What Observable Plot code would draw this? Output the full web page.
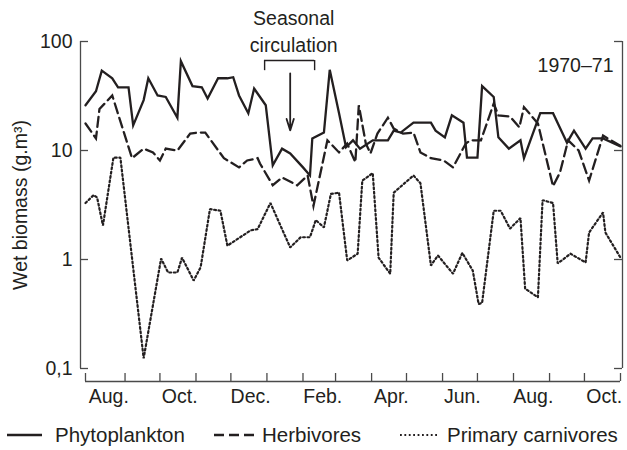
<!DOCTYPE html>
<html>
<head>
<meta charset="utf-8">
<script src="https://cdn.jsdelivr.net/npm/d3@7"></script>
<script src="https://cdn.jsdelivr.net/npm/@observablehq/plot@0.6"></script>
<style>
  html, body { margin: 0; padding: 0; background: #fff; }
  #chart { width: 627px; }
  .legend {
    position: relative; height: 30px; width: 627px;
    font: 20.5px "Liberation Sans", Arial, sans-serif; color: #231f20;
  }
  .legend .item { position: absolute; top: 0; height: 30px; display: flex; align-items: center; white-space: nowrap; }
  .legend svg { display: block; }
</style>
</head>
<body>
<div id="chart"></div>
<script>
// Wet biomass (g/m³) of three trophic levels, July 1970 – October 1971.
const seriesNames = ["Phytoplankton", "Herbivores", "Primary carnivores"];

const phytoDates = ["1970-07-29","1970-08-07","1970-08-12","1970-08-21","1970-08-26","1970-09-04","1970-09-08","1970-09-17","1970-09-21","1970-09-29","1970-10-06","1970-10-16","1970-10-19","1970-10-29","1970-11-06","1970-11-11","1970-11-20","1970-11-28","1970-12-03","1970-12-08","1970-12-16","1970-12-21","1970-12-31","1971-01-06","1971-01-14","1971-01-21","1971-02-01","1971-02-07","1971-02-09","1971-02-19","1971-02-24","1971-03-04","1971-03-10","1971-03-16","1971-03-22","1971-04-02","1971-04-15","1971-04-20","1971-04-26","1971-05-07","1971-05-22","1971-05-26","1971-06-03","1971-06-09","1971-06-19","1971-06-22","1971-07-01","1971-07-05","1971-07-15","1971-07-19","1971-07-28","1971-08-07","1971-08-10","1971-08-24","1971-09-04","1971-09-16","1971-09-22","1971-10-02","1971-10-08","1971-10-17","1971-11-01"];
const phytoValues = [26,35,54,46,38,38,17,29,46,32,31,20,66,39,38,30,46,46,47,32,22,37,26,7.3,10.4,9.4,7,5.9,12.9,14.6,55,22,10.7,12.4,10.4,12.4,12.4,15.2,14.6,18,18,15.2,13.2,21,18,8.6,8.6,39,31,13.2,10.4,12.4,8.5,22,22,11.8,15.2,10.4,12.9,12.9,10.9];

const herbDates = ["1970-07-29","1970-08-07","1970-08-10","1970-08-21","1970-09-07","1970-09-17","1970-09-25","1970-10-01","1970-10-06","1970-10-16","1970-10-27","1970-11-02","1970-11-09","1970-11-25","1970-12-08","1970-12-15","1970-12-24","1970-12-26","1971-01-06","1971-01-14","1971-01-27","1971-02-05","1971-02-10","1971-02-22","1971-03-04","1971-03-11","1971-03-18","1971-03-21","1971-03-27","1971-03-31","1971-04-06","1971-04-15","1971-04-20","1971-04-28","1971-05-07","1971-05-13","1971-05-22","1971-06-02","1971-06-10","1971-06-21","1971-06-25","1971-07-04","1971-07-15","1971-07-19","1971-07-29","1971-08-06","1971-08-10","1971-08-22","1971-09-04","1971-09-10","1971-09-17","1971-09-26","1971-10-05","1971-10-17","1971-11-01"];
const herbValues = [17.7,12.9,24,32,8.5,10.4,9.6,8.1,10.4,10,14.3,14.6,14.6,8.5,7,8.1,8.5,7.6,4.8,5.65,4.8,5.9,3.1,12.4,9.6,11.6,7.8,26,11.6,9.4,14.3,20,15.9,14.3,14.6,9.6,8.5,8.1,7,11.6,12.4,12.4,27,21,20.5,16.3,25,17.7,4.7,6.3,12.4,10,5.3,13.7,11];

const carnDates = ["1970-07-29","1970-08-05","1970-08-08","1970-08-13","1970-08-22","1970-08-28","1970-09-17","1970-10-02","1970-10-08","1970-10-16","1970-10-20","1970-10-30","1970-11-05","1970-11-13","1970-11-22","1970-11-28","1970-12-18","1970-12-24","1971-01-04","1971-01-21","1971-01-30","1971-02-07","1971-02-12","1971-02-19","1971-02-25","1971-03-04","1971-03-11","1971-03-20","1971-03-24","1971-04-02","1971-04-07","1971-04-17","1971-04-20","1971-05-07","1971-05-13","1971-05-22","1971-05-28","1971-06-10","1971-06-18","1971-06-27","1971-07-02","1971-07-05","1971-07-15","1971-07-21","1971-07-29","1971-08-07","1971-08-11","1971-08-22","1971-08-26","1971-09-04","1971-09-08","1971-09-19","1971-10-02","1971-10-05","1971-10-17","1971-10-19","1971-11-01"];
const carnValues = [3.3,3.9,3.7,2.05,8.6,8.6,0.124,1.02,0.76,0.76,1.04,0.64,0.85,2.9,2.8,1.34,1.85,1.9,3.3,1.29,1.6,1.6,2.3,1.97,4.0,4.1,0.98,1.13,5.3,6.2,1.04,0.74,4.1,5.9,5.0,0.88,1.09,0.74,1.15,0.79,0.39,0.4,2.8,2.8,1.92,2.4,0.54,0.45,3.5,3.3,0.92,1.13,0.94,1.77,2.7,1.77,1.04];

// Axis ticks and labels
const yTicks = [0.1, 1, 10, 100];
const yTickLabels = ["0,1", "1", "10", "100"];
const monthLabels = ["Aug.", "Oct.", "Dec.", "Feb.", "Apr.", "Jun.", "Aug.", "Oct."];
const labelledMonths = ["1970-08", "1970-10", "1970-12", "1971-02", "1971-04", "1971-06", "1971-08", "1971-10"];

// Winter mixing period marked above the curves
const circulation = {start: "1970-12-30", end: "1971-02-11", arrow: "1971-01-21", label: "1971-01-24"};
const periodLabel = "1970–71";

const ink = "#231f20";
const axisInk = "#4a4a4a";
const font = '"Liberation Sans", Arial, sans-serif';

const rows = (dates, values) => dates.map((d, i) => ({date: new Date(d), value: values[i]}));
const phyto = rows(phytoDates, phytoValues);
const herb = rows(herbDates, herbValues);
const carn = rows(carnDates, carnValues);

const width = 627, height = 420;
const marginLeft = 85, marginRight = 7, marginTop = 41, marginBottom = 52;
const innerW = width - marginLeft - marginRight;
const innerH = height - marginTop - marginBottom;
const tickLen = 8;

const xDomain = [new Date("1970-07-29"), new Date("1971-11-01")];
// month boundaries (ticks); labels sit in the middle of their month
const monthTicks = [xDomain[0], ...d3.utcMonths(new Date("1970-09-01"), new Date("1971-11-02"))];
const labelDates = labelledMonths.map(m => d3.utcDay.offset(new Date(m + "-01"), 17));
const labelOf = new Map(labelDates.map((d, i) => [+d, monthLabels[i]]));

const ann = [{
  start: new Date(circulation.start), end: new Date(circulation.end),
  arrow: new Date(circulation.arrow), label: new Date(circulation.label)
}];

const dotted = "1.8,2.6";

const chart = Plot.plot({
  width, height, marginLeft, marginRight, marginTop, marginBottom,
  style: {fontFamily: font, fontSize: "19.5px", color: ink, background: "#fff"},
  x: {type: "utc", domain: xDomain},
  y: {type: "log", domain: [0.1, 100]},
  marks: [
    // left axis
    Plot.ruleX([xDomain[0]], {x: d => d, y1: 0.1, y2: 100, dx: -5, stroke: axisInk, strokeWidth: 1.3}),
    Plot.tickY(yTicks, {y: d => d, dx: -5, insetRight: innerW - tickLen, stroke: axisInk, strokeWidth: 1.3}),
    Plot.axisY({ticks: yTicks, tickFormat: d => yTickLabels[yTicks.indexOf(d)], tickSize: 0, tickPadding: 13, label: null, fill: ink}),
    // right axis
    Plot.ruleX([xDomain[1]], {x: d => d, y1: 0.1, y2: 100, dx: 2, stroke: axisInk, strokeWidth: 1.3}),
    Plot.tickY(yTicks, {y: d => d, dx: 2, insetLeft: innerW - tickLen, stroke: axisInk, strokeWidth: 1.3}),
    // bottom (time) axis, set below the 0.1 level
    Plot.ruleY([0.1], {y: d => d, dy: 13, stroke: axisInk, strokeWidth: 1.3}),
    Plot.tickX(monthTicks, {x: d => d, dy: 13, insetTop: innerH - tickLen, stroke: axisInk, strokeWidth: 1.3}),
    Plot.axisX({ticks: labelDates, tickFormat: d => labelOf.get(+d), tickSize: 0, tickPadding: 21, label: null, fill: ink}),
    // y label
    Plot.text(["Wet biomass (g.m³)"], {text: d => d, frameAnchor: "left", rotate: -90, dx: -65, textAnchor: "middle", lineAnchor: "middle", fill: ink}),
    // series
    Plot.line(carn, {x: "date", y: "value", stroke: ink, strokeWidth: 2.2, strokeDasharray: dotted, strokeLinejoin: "miter"}),
    Plot.line(herb, {x: "date", y: "value", stroke: ink, strokeWidth: 2.3, strokeDasharray: "10,5", strokeLinejoin: "miter", strokeMiterlimit: 6}),
    Plot.line(phyto, {x: "date", y: "value", stroke: ink, strokeWidth: 2.3, strokeLinejoin: "miter", strokeMiterlimit: 6}),
    // seasonal circulation bracket and arrow
    Plot.ruleY(ann, {x1: "start", x2: "end", y: () => 67, stroke: ink, strokeWidth: 1.4}),
    Plot.ruleX(ann, {x: "start", y1: 54, y2: 67, stroke: ink, strokeWidth: 1.4}),
    Plot.ruleX(ann, {x: "end", y1: 54, y2: 67, stroke: ink, strokeWidth: 1.4}),
    Plot.arrow(ann, {x1: "arrow", x2: "arrow", y1: () => 51, y2: () => 15.3, stroke: ink, strokeWidth: 1.8, headLength: 10, headAngle: 35}),
    Plot.text(ann, {x: "label", frameAnchor: "top", text: () => "Seasonal\ncirculation", lineAnchor: "bottom", lineHeight: 1.35, dy: 10, textAnchor: "middle", fill: ink}),
    Plot.text([periodLabel], {text: d => d, frameAnchor: "top-right", textAnchor: "end", lineAnchor: "bottom", dx: -7, dy: 30, fill: ink})
  ]
});
document.getElementById("chart").append(chart);

// legend below the plot
const legendItems = [
  {left: 7, sample: 35, gap: 13, dash: null, width: 2.3},
  {left: 214, sample: 42, gap: 6, dash: "10,5", width: 2.3},
  {left: 400, sample: 38, gap: 9, dash: dotted, width: 2.2}
];
const legend = document.createElement("div");
legend.className = "legend";
seriesNames.forEach((name, i) => {
  const s = legendItems[i];
  const item = document.createElement("span");
  item.className = "item";
  item.style.left = s.left + "px";
  item.innerHTML = `<svg width="${s.sample}" height="6" style="margin-right:${s.gap}px"><line x1="0" y1="3" x2="${s.sample}" y2="3" stroke="${ink}" stroke-width="${s.width}"${s.dash ? ` stroke-dasharray="${s.dash}"` : ""}/></svg><span>${name}</span>`;
  legend.append(item);
});
document.getElementById("chart").append(legend);
</script>
</body>
</html>
